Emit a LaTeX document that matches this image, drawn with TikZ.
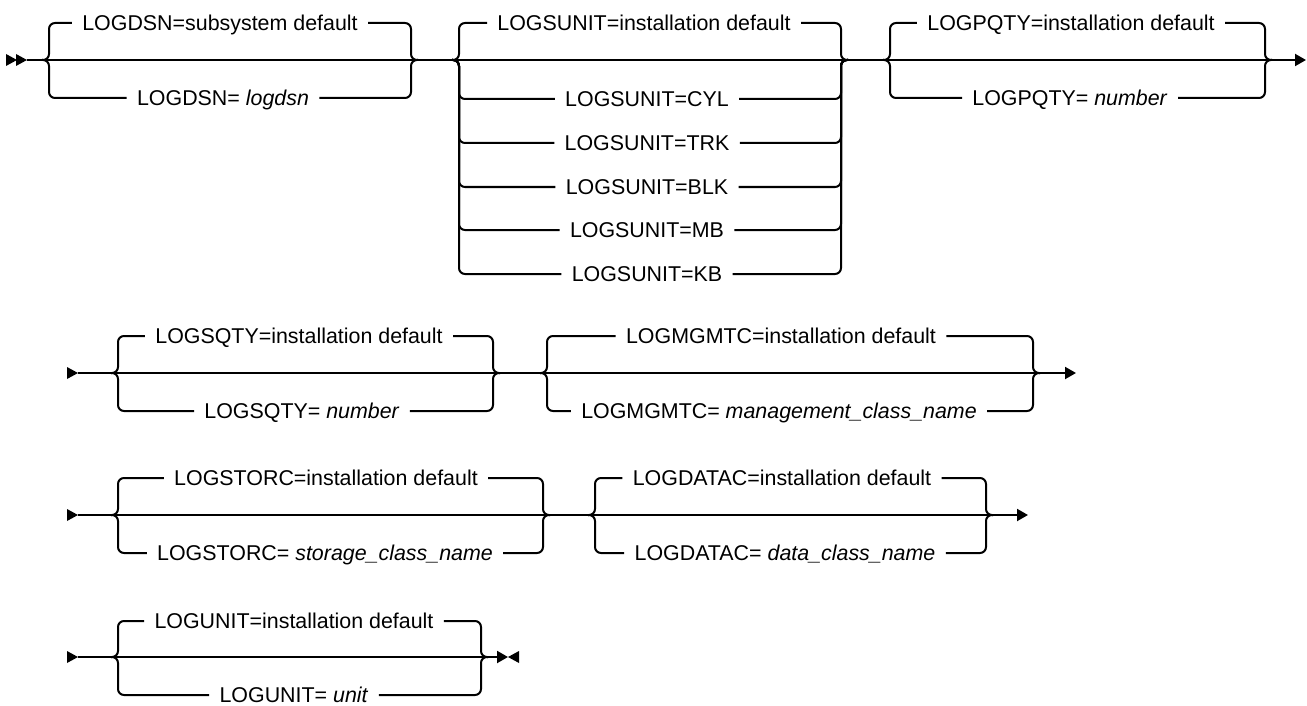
\documentclass[tikz,border=0pt]{standalone}
\usepackage{fontspec}
\setmainfont{Liberation Sans}
\usetikzlibrary{arrows.meta}
\tikzset{
  railline/.style={line width=1pt},
  choice/.style={font=\fontsize{10.7}{12}\selectfont, inner xsep=5pt, inner ysep=0pt,
    text height=7.7pt, text depth=0pt},
  railend/.style={-{Triangle[length=5.5pt,width=6pt]}},
  railmark/.style={fill=black}
}
\def\Bw{7}
\def\Rc{3pt}
\newcommand{\RailGroup}[4]{%
  % #1 name, #2 left cusp x, #3 right cusp x, #4 main line y
  \coordinate (#1-l) at (#2,#4);
  \coordinate (#1-li) at ({#2+\Bw},#4);
  \coordinate (#1-ri) at ({#3-\Bw},#4);
  \coordinate (#1-r) at (#3,#4);
}
\newcommand{\RailBranch}[5]{%
  % #1 group, #2 node name, #3 text x, #4 branch y, #5 text
  \node[choice] (#2) at (#3,#4) {#5};
  % brace in and brace out
  \draw[railline, rounded corners=\Rc] (#1-l) -- (#1-li) |- (#2.west);
  \draw[railline, rounded corners=\Rc] (#2.east) -| (#1-ri) -- (#1-r);
}
\newcommand{\StartMark}[1]{%
  \fill[railmark] (#1) -- ++(-11,-6) -- ++(0,12) -- cycle;
}

\begin{document}
\begin{tikzpicture}[x=0.5pt, y=-0.5pt]
  \useasboundingbox (0,0) rectangle (1307,706);

  % row 1
  \coordinate (r1m) at (17,60);
  \coordinate (r1s) at (27,60);
  \coordinate (r1e) at (1306,60);
  \StartMark{r1m}
  \StartMark{r1s}
  \draw[railline, railend] (r1s) -- (r1e);
  \RailGroup{dsn}{42}{418}{60}
  \RailBranch{dsn}{dsndef}{220}{23}{LOGDSN=subsystem default}
  \RailBranch{dsn}{dsnval}{223}{98}{LOGDSN= \textit{logdsn}}
  \RailGroup{sunit}{452}{848}{60}
  \RailBranch{sunit}{sunitdef}{644}{23}{LOGSUNIT=installation default}
  \foreach \u/\y in {CYL/99, TRK/143, BLK/187, MB/230, KB/274}
    {\RailBranch{sunit}{sunit\u}{647}{\y}{LOGSUNIT=\u}}
  \RailGroup{pqty}{883}{1272}{60}
  \RailBranch{pqty}{pqtydef}{1071}{23}{LOGPQTY=installation default}
  \RailBranch{pqty}{pqtyval}{1070}{98}{LOGPQTY= \textit{number}}

  % row 2
  \coordinate (r2s) at (78,373);
  \coordinate (r2e) at (1076,373);
  \StartMark{r2s}
  \draw[railline, railend] (r2s) -- (r2e);
  \RailGroup{sqty}{111}{500}{373}
  \RailBranch{sqty}{sqtydef}{299}{336}{LOGSQTY=installation default}
  \RailBranch{sqty}{sqtyval}{302}{411}{LOGSQTY= \textit{number}}
  \RailGroup{mgmtc}{540}{1040}{373}
  \RailBranch{mgmtc}{mgmtcdef}{781}{336}{LOGMGMTC=installation default}
  \RailBranch{mgmtc}{mgmtcval}{779}{411}{LOGMGMTC= \textit{management\_class\_name}}

  % row 3
  \coordinate (r3s) at (78,515);
  \coordinate (r3e) at (1028,515);
  \StartMark{r3s}
  \draw[railline, railend] (r3s) -- (r3e);
  \RailGroup{storc}{111}{550}{515}
  \RailBranch{storc}{storcdef}{326}{478}{LOGSTORC=installation default}
  \RailBranch{storc}{storcval}{325}{553}{LOGSTORC= \textit{storage\_class\_name}}
  \RailGroup{datac}{588}{993}{515}
  \RailBranch{datac}{datacdef}{782}{478}{LOGDATAC=installation default}
  \RailBranch{datac}{datacval}{785}{553}{LOGDATAC= \textit{data\_class\_name}}

  % row 4
  \coordinate (r4s) at (78,657);
  \coordinate (r4e) at (508,657);
  \StartMark{r4s}
  \draw[railline, railend] (r4s) -- (r4e);
  \fill[railmark] (r4e) -- ++(11,-6) -- ++(0,12) -- cycle;
  \RailGroup{unit}{111}{488}{657}
  \RailBranch{unit}{unitdef}{294}{621}{LOGUNIT=installation default}
  \RailBranch{unit}{unitval}{294}{695}{LOGUNIT= \textit{unit}}
\end{tikzpicture}
\end{document}
